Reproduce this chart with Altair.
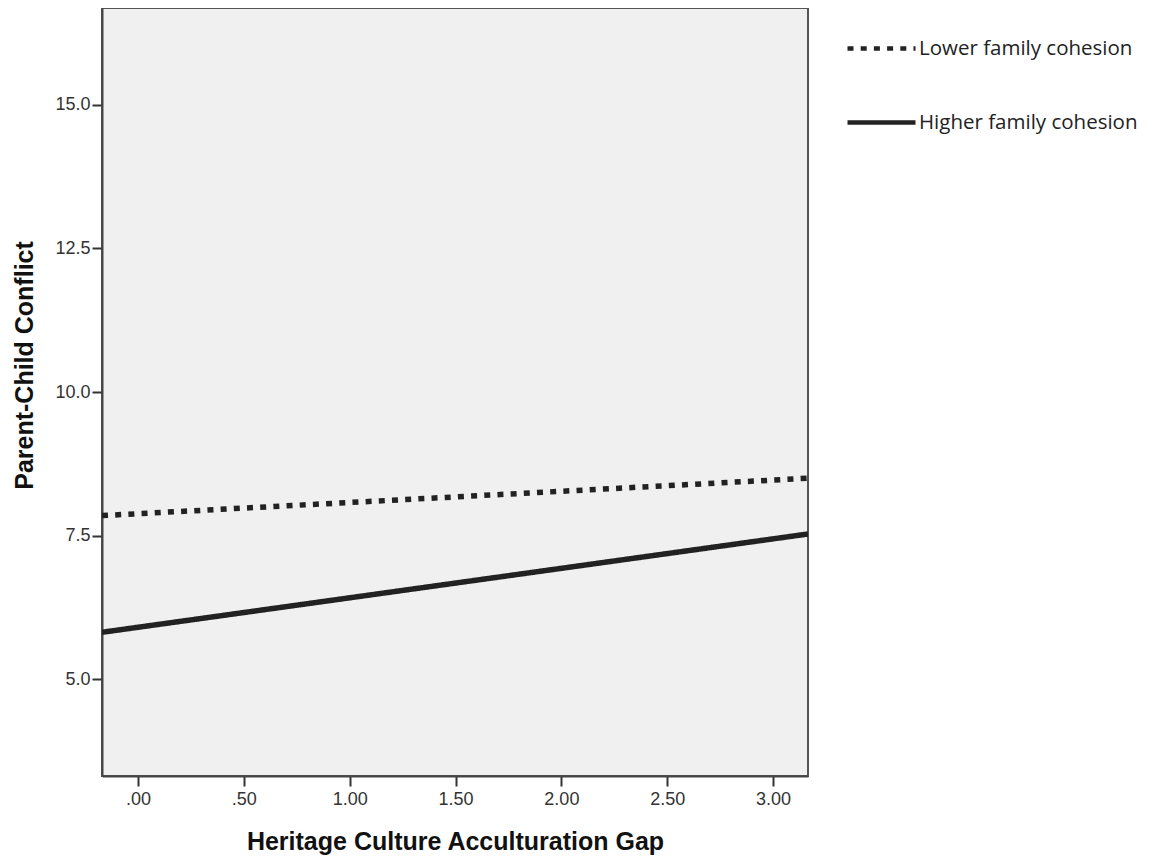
import altair as alt
import pandas as pd

# Data
x_vals = [-0.17, 3.165]
lower = [7.85, 8.50]
higher = [5.82, 7.53]
groups = ["Lower family cohesion", "Higher family cohesion"]
x_ticks = [0, 0.5, 1, 1.5, 2, 2.5, 3]
y_ticks = [5, 7.5, 10, 12.5, 15]

rows = []
for g, ys in zip(groups, [lower, higher]):
    for x, y in zip(x_vals, ys):
        rows.append({"gap": x, "conflict": y, "group": g})
df = pd.DataFrame(rows)

chart = alt.Chart(df).mark_line(clip=True, strokeCap="butt", color="#222222").encode(
    x=alt.X(
        "gap:Q",
        scale=alt.Scale(domain=[-0.17, 3.165], nice=False, zero=False),
        axis=alt.Axis(
            values=x_ticks,
            labelExpr="replace(format(datum.value, '.2f'), '0.', '.')",
            title="Heritage Culture Acculturation Gap",
            grid=False,
            labelPadding=4,
            titleX=353,
            titleY=73,
            titleBaseline="alphabetic",
            titleAlign="center",
        ),
    ),
    y=alt.Y(
        "conflict:Q",
        scale=alt.Scale(domain=[3.32, 16.68], nice=False, zero=False),
        axis=alt.Axis(
            values=y_ticks,
            format=".1f",
            title="Parent-Child Conflict",
            grid=False,
            labelPadding=2,
            titleX=-70,
            titleY=357,
            titleBaseline="alphabetic",
            titleAlign="center",
        ),
    ),
    strokeDash=alt.StrokeDash(
        "group:N",
        scale=alt.Scale(domain=groups, range=[[6, 7.2], [1, 0]]),
        legend=alt.Legend(
            title=None,
            orient="none",
            legendX=743,
            legendY=4,
            symbolType="stroke",
            symbolSize=4624,
            symbolStrokeWidth=4.5,
            symbolStrokeColor="#222222",
            labelFont="Open Sans",
            labelFontSize=20.5,
            labelColor="#222222",
            labelOffset=1,
            labelLimit=400,
            rowPadding=27,
            padding=0,
        ),
    ),
    strokeWidth=alt.value(5.5),
).properties(
    width=706,
    height=768,
    autosize=alt.AutoSizeParams(type="none"),
    padding={"left": 94, "top": 0, "right": 340, "bottom": 84},
).configure_view(
    fill="#f0f0f0", stroke="#555555", strokeWidth=2
).configure_axis(
    labelFont="Liberation Sans",
    labelFontSize=18,
    labelColor="#333333",
    titleFont="Liberation Sans",
    titleFontSize=25,
    titleFontWeight="bold",
    titleColor="#111111",
    domainColor="#444444",
    domainWidth=2,
    tickColor="#333333",
    tickWidth=2,
    tickSize=10,
)

chart.save("out.html", embed_options={"renderer": "svg", "actions": False})
